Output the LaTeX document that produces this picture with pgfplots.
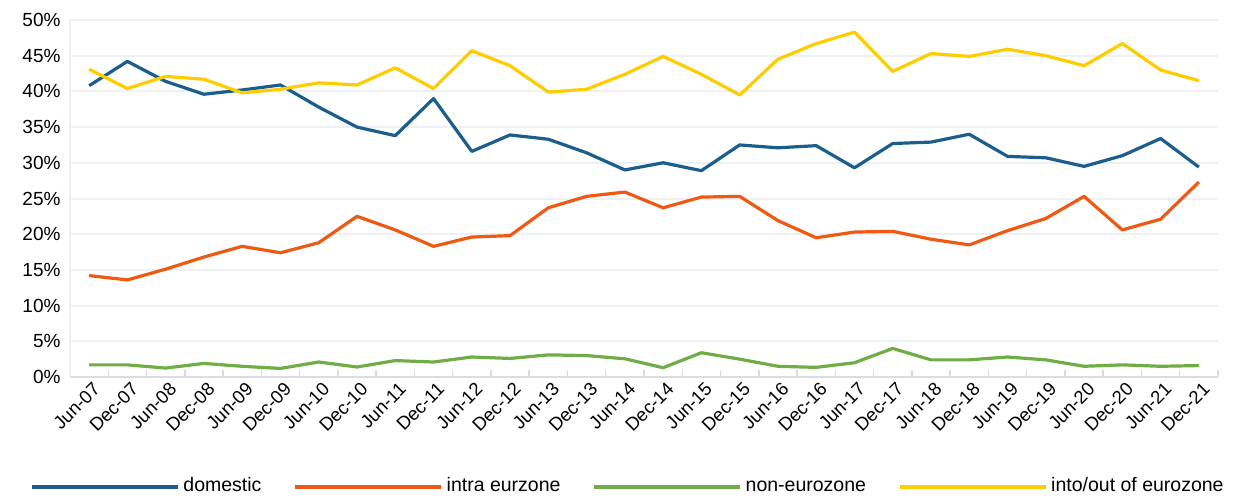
\documentclass[border=0pt]{standalone}
\usepackage{fontspec}
\setmainfont{Liberation Sans}
\usepackage{pgfplots}
\usepackage{pgfplotstable}
\pgfplotsset{compat=1.18}

\definecolor{cdom}{HTML}{1B5E8D}
\definecolor{cintra}{HTML}{EE5A13}
\definecolor{cnon}{HTML}{70AD47}
\definecolor{cinto}{HTML}{FFCC00}
\definecolor{cgrid}{HTML}{EEF1F4}
\definecolor{caxis}{HTML}{D9DDE2}

% shares of trade, percent
\pgfplotstableread{
idx domestic intra non into
0  40.8 14.2 1.7  43.1
1  44.2 13.6 1.7  40.4
2  41.4 15.1 1.25 42.1
3  39.6 16.8 1.9  41.7
4  40.2 18.3 1.5  39.8
5  40.9 17.4 1.2  40.3
6  37.8 18.8 2.1  41.2
7  35.0 22.5 1.4  40.9
8  33.8 20.6 2.3  43.3
9  39.0 18.3 2.1  40.4
10 31.6 19.6 2.8  45.7
11 33.9 19.8 2.6  43.6
12 33.3 23.7 3.1  39.9
13 31.4 25.3 3.0  40.3
14 29.0 25.9 2.55 42.4
15 30.0 23.7 1.3  44.9
16 28.9 25.2 3.4  42.4
17 32.5 25.3 2.5  39.5
18 32.1 21.9 1.5  44.5
19 32.4 19.5 1.35 46.7
20 29.3 20.3 2.0  48.3
21 32.7 20.4 4.0  42.8
22 32.9 19.3 2.4  45.3
23 34.0 18.5 2.4  44.9
24 30.9 20.5 2.8  45.9
25 30.7 22.2 2.4  45.0
26 29.5 25.3 1.5  43.6
27 31.0 20.6 1.7  46.7
28 33.4 22.1 1.5  43.0
29 29.4 27.3 1.6  41.5
}\shares

\begin{document}
\begin{tikzpicture}[x=1pt,y=1pt]
\begin{axis}[
  at={(70pt,118pt)}, anchor=south west,
  scale only axis, width=1148pt, height=357pt,
  xmin=-0.5, xmax=29.5, ymin=0, ymax=50,
  xtick={0,...,29},
  xticklabels={Jun-07,Dec-07,Jun-08,Dec-08,Jun-09,Dec-09,Jun-10,Dec-10,Jun-11,Dec-11,Jun-12,Dec-12,Jun-13,Dec-13,Jun-14,Dec-14,Jun-15,Dec-15,Jun-16,Dec-16,Jun-17,Dec-17,Jun-18,Dec-18,Jun-19,Dec-19,Jun-20,Dec-20,Jun-21,Dec-21},
  minor xtick={-0.5,0.5,...,29.5},
  major tick length=0pt, minor tick length=7pt, tick align=inside,
  minor x tick style={caxis, line width=1.5pt},
  ytick={0,5,...,50},
  yticklabel={\pgfmathprintnumber{\tick}\%},
  /pgf/number format/assume math mode=true,
  ymajorgrids, major grid style={cgrid, line width=2pt},
  axis x line*=bottom, axis y line*=left,
  x axis line style={caxis, line width=1.5pt, -},
  y axis line style={cgrid, line width=2pt, -},
  ytick style={draw=none},
  yticklabel style={font=\fontsize{19}{22}\selectfont, black, xshift=-6pt},
  xticklabel style={font=\fontsize{18.5}{21}\selectfont, black,
    rotate=45, anchor=north east, inner sep=1pt, yshift=-4pt},
  legend columns=4,
  legend style={at={(-0.0348,-0.308)}, anchor=west, draw=none, fill=none,
    inner sep=0pt, font=\fontsize{19.5}{22}\selectfont,
    nodes={inner xsep=4pt, text height=14pt, text depth=4pt},
    /tikz/every even column/.append style={column sep=28pt}},
  legend image code/.code={\draw[#1] (0pt,0pt) -- (146pt,0pt);},
  every axis plot/.append style={line width=3.2pt, line join=round},
]
\addplot[cdom] table[x=idx, y=domestic] {\shares};
\addlegendentry{domestic}
\addplot[cintra] table[x=idx, y=intra] {\shares};
\addlegendentry{intra eurzone}
\addplot[cnon] table[x=idx, y=non] {\shares};
\addlegendentry{non-eurozone}
\addplot[cinto] table[x=idx, y=into] {\shares};
\addlegendentry{into/out of eurozone}
\end{axis}
\pgfresetboundingbox
\path (0pt,0pt) rectangle (1233pt,495pt);
\end{tikzpicture}
\end{document}
